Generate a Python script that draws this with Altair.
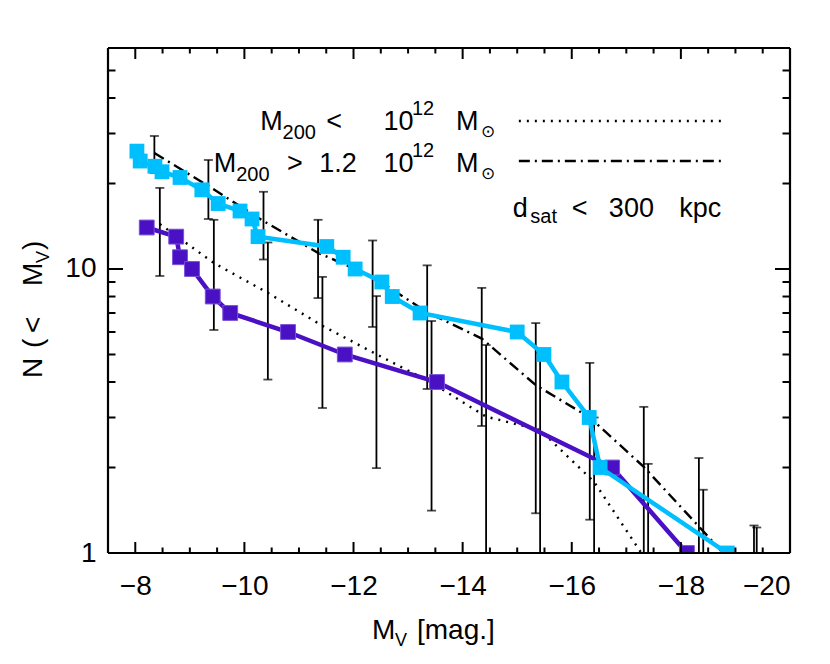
import altair as alt
import pandas as pd

# ---------------- data ----------------
# observed satellites, sample 1 (light blue)
cyan_mv = [-8.03, -8.09, -8.36, -8.49, -8.82, -9.22, -9.52, -9.92, -10.14, -10.25,
           -11.51, -11.81, -12.03, -12.52, -12.71, -13.22, -15.00, -15.49, -15.82,
           -16.32, -16.52, -18.85]
cyan_n = [26, 24, 23, 22, 21, 19, 17, 16, 15, 13, 12, 11, 10, 9, 8, 7, 6, 5, 4, 3, 2, 1]

# observed satellites, sample 2 (purple)
purple_mv = [-8.21, -8.75, -8.82, -9.04, -9.42, -9.74, -10.80, -11.84, -13.53, -16.74, -18.11]
purple_n = [14, 13, 11, 10, 8, 7, 6, 5, 4, 2, 1]

# simulated hosts, M200 > 1.2e12 (dash-dot) : mean and 1-sigma range
big_mv = [-8.35, -9.34, -10.35, -11.35, -12.35, -13.35, -14.35, -15.34, -16.33, -17.32, -18.33, -19.34]
big_mean = [25.6, 19.6, 14.75, 11.4, 9.4, 7.04, 5.69, 3.9, 3.0, 2.01, 1.24, 0.76]
big_lo = [21.8, 15.0, 10.8, 7.9, 6.25, 3.78, 2.80, 1.38, 1.31, 0.75, 0.32, 0.27]
big_hi = [29.4, 24.2, 18.7, 14.9, 12.6, 10.3, 8.58, 6.45, 4.67, 3.27, 2.16, 1.25]

# simulated hosts, M200 < 1e12 (dotted) : mean and 1-sigma range
small_mv = [-8.45, -9.44, -10.43, -11.43, -12.42, -13.43, -14.43, -15.42, -16.41, -17.40, -18.41, -19.39]
small_mean = [14.4, 10.5, 8.24, 6.31, 5.01, 3.98, 3.02, 2.71, 1.78, 0.92, 0.5, 0.3]
small_lo = [9.45, 6.1, 4.08, 3.24, 1.99, 1.41, 0.64, 0.36, 0.56, 0.2, 0.2, 0.2]
small_hi = [19.3, 14.9, 12.4, 9.38, 8.03, 6.56, 5.4, 5.06, 3.0, 2.06, 1.67, 1.23]

x_labels = [-8, -10, -12, -14, -16, -18, -20]
x_minor = [-7.5, -8.5, -9, -9.5, -10.5, -11, -11.5, -12.5, -13, -13.5, -14.5, -15, -15.5,
           -16.5, -17, -17.5, -18.5, -19, -19.5]
y_labels = [1, 10]
y_minor = [2, 3, 4, 5, 6, 7, 8, 9, 20, 30, 40, 50]

# ---------------- styling ----------------
W, H = 682, 505
FONT = "Liberation Sans"
CYAN = "#00BFFF"
PURPLE = "#4A10C4"

xs = alt.Scale(domain=[-20, -7.5], reverse=True, nice=False, zero=False)
ys = alt.Scale(type="log", domain=[1, 60], nice=False)

xaxis = alt.Axis(values=x_labels, ticks=False, tickSize=0, domain=False, grid=False,
                 labelFont=FONT, labelFontSize=28, labelColor="black", labelPadding=19,
                 title="", format="d")
yaxis = alt.Axis(values=y_labels, ticks=False, tickSize=0, domain=False, grid=False,
                 labelFont=FONT, labelFontSize=28, labelColor="black", labelPadding=12,
                 title="", format="d")


def X(field):
    return alt.X(field, type="quantitative", scale=xs, axis=xaxis)


def Y(field):
    return alt.Y(field, type="quantitative", scale=ys, axis=yaxis)


big = pd.DataFrame({"mv": big_mv, "n": big_mean, "lo": big_lo, "hi": big_hi})
small = pd.DataFrame({"mv": small_mv, "n": small_mean, "lo": small_lo, "hi": small_hi})
bars = pd.concat([big, small], ignore_index=True)
cyan = pd.DataFrame({"mv": cyan_mv, "n": cyan_n})
purple = pd.DataFrame({"mv": purple_mv, "n": purple_n})

layers = []

# error bars
layers.append(alt.Chart(bars).mark_rule(color="black", strokeWidth=1.8, clip=True)
              .encode(x=X("mv"), y=Y("lo"), y2="hi"))
for end in ("hi", "lo"):
    layers.append(alt.Chart(bars).mark_tick(color="black", orient="horizontal", size=9,
                                            thickness=1.8, clip=True)
                  .encode(x=X("mv"), y=Y(end)))

# mean curves
layers.append(alt.Chart(small).mark_line(color="black", strokeWidth=2.4, strokeDash=[2, 6],
                                         clip=True)
              .encode(x=X("mv"), y=Y("n")))
layers.append(alt.Chart(big).mark_line(color="black", strokeWidth=2.4,
                                       strokeDash=[11, 5, 2, 5], clip=True)
              .encode(x=X("mv"), y=Y("n")))

# observed cumulative functions
layers.append(alt.Chart(purple).mark_line(color=PURPLE, strokeWidth=4.5, clip=True)
              .encode(x=X("mv"), y=Y("n")))
layers.append(alt.Chart(purple).mark_point(shape="square", filled=True, size=220, opacity=1,
                                           color=PURPLE, stroke="#7A50D8", strokeWidth=1,
                                           clip=True)
              .encode(x=X("mv"), y=Y("n")))
layers.append(alt.Chart(cyan).mark_line(color=CYAN, strokeWidth=4.5, clip=True)
              .encode(x=X("mv"), y=Y("n")))
layers.append(alt.Chart(cyan).mark_point(shape="square", filled=True, size=220, opacity=1,
                                         color=CYAN, clip=True)
              .encode(x=X("mv"), y=Y("n")))

# inward ticks on the frame
ymaj = pd.DataFrame({"t": y_labels})
ymin = pd.DataFrame({"t": y_minor})
xmaj = pd.DataFrame({"t": x_labels})
xmin = pd.DataFrame({"t": x_minor})
TK = dict(color="black", strokeWidth=2)
for df, ln in ((ymaj, 15), (ymin, 7.5)):
    layers.append(alt.Chart(df).mark_rule(**TK).encode(y=Y("t"), x=alt.value(0), x2=alt.value(ln)))
    layers.append(alt.Chart(df).mark_rule(**TK).encode(y=Y("t"), x=alt.value(W - ln), x2=alt.value(W)))
for df, ln in ((xmaj, 11), (xmin, 5.5)):
    layers.append(alt.Chart(df).mark_rule(**TK).encode(x=X("t"), y=alt.value(H), y2=alt.value(H - ln)))
    layers.append(alt.Chart(df).mark_rule(**TK).encode(x=X("t"), y=alt.value(0), y2=alt.value(ln)))

# plot frame
one = pd.DataFrame({"a": [0]})
FR = dict(color="black", strokeWidth=2.2)
layers += [
    alt.Chart(one).mark_rule(**FR).encode(x=alt.value(0), x2=alt.value(W), y=alt.value(0)),
    alt.Chart(one).mark_rule(**FR).encode(x=alt.value(0), x2=alt.value(W), y=alt.value(H)),
    alt.Chart(one).mark_rule(**FR).encode(y=alt.value(0), y2=alt.value(H), x=alt.value(0)),
    alt.Chart(one).mark_rule(**FR).encode(y=alt.value(0), y2=alt.value(H), x=alt.value(W)),
]

# legend line samples
leg_dot = pd.DataFrame({"x1": [-15.03], "x2": [-18.74], "y": [33.2]})
leg_dd = pd.DataFrame({"x1": [-15.03], "x2": [-18.74], "y": [24.0]})
layers.append(alt.Chart(leg_dot).mark_rule(color="black", strokeWidth=2.4, strokeDash=[2, 6])
              .encode(x=X("x1"), x2="x2", y=Y("y")))
layers.append(alt.Chart(leg_dd).mark_rule(color="black", strokeWidth=2.4,
                                          strokeDash=[11, 5, 2, 5])
              .encode(x=X("x1"), x2="x2", y=Y("y")))

# legend texts (pieces, to get sub- and superscripts)
BIG, SUB, SUN = 27, 20, 17
txt = pd.DataFrame([
    # row 1
    ("M", -10.29, 30.9, BIG), ("200", -10.70, 28.7, SUB), ("<", -11.50, 30.9, BIG),
    ("10", -12.55, 30.9, BIG), ("12", -13.07, 34.9, SUB), ("M", -13.88, 30.9, BIG),
    ("\u2299", -14.34, 29.2, SUN),
    # row 2
    ("M", -9.44, 21.95, BIG), ("200", -9.85, 20.4, SUB), (">", -10.78, 21.95, BIG),
    ("1.2", -11.37, 21.95, BIG), ("10", -12.55, 21.95, BIG), ("12", -13.07, 24.8, SUB),
    ("M", -13.88, 21.95, BIG), ("\u2299", -14.34, 20.75, SUN),
    # row 3
    ("d", -14.92, 15.24, BIG), ("sat", -15.24, 14.52, SUB), ("<", -16.00, 15.24, BIG),
    ("300", -16.68, 15.24, BIG), ("kpc", -17.97, 15.24, BIG),
], columns=["s", "x", "y", "fs"])
layers.append(alt.Chart(txt).mark_text(font=FONT, align="left", baseline="alphabetic",
                                       color="black")
              .encode(x=X("x"), y=Y("y"), text="s:N", size=alt.Size("fs:Q", scale=None)))


# axis titles built from pieces
def piece(s, px, py, fs, angle=0):
    return (alt.Chart(pd.DataFrame({"s": [s]}))
            .mark_text(font=FONT, align="left", baseline="alphabetic", color="black",
                       fontSize=fs, angle=angle)
            .encode(x=alt.value(px), y=alt.value(py), text="s:N"))


layers += [
    piece("M", 264, 591, 28), piece("V", 287, 598, 18), piece("[mag.]", 309, 591, 28),
    piece("N", -66, 330, 28, 270), piece("(", -66, 300, 28, 270),
    piece("<", -66, 285, 28, 270), piece("M", -66, 238, 28, 270),
    piece("V", -59, 215, 18, 270), piece(")", -66, 202, 28, 270),
]

chart = (alt.layer(*layers)
         .properties(width=W, height=H, autosize=alt.AutoSizeParams(type="none"),
                     padding={"left": 100, "top": 40, "right": 32, "bottom": 103})
         .configure_view(stroke=None)
         .configure(background="white"))

chart.save("out.html", embed_options={"renderer": "svg", "actions": False})
